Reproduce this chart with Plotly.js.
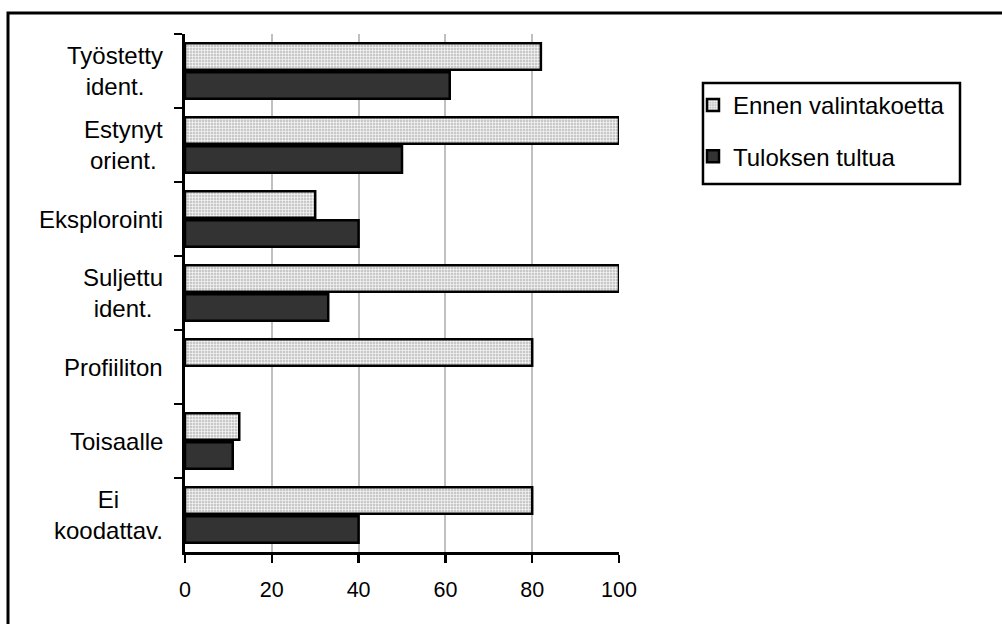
<!DOCTYPE html>
<html>
<head>
<meta charset="utf-8">
<script src="https://cdn.plot.ly/plotly-3.0.1.min.js"></script>
<style>
html,body{margin:0;padding:0;background:#fff;}
#chart{width:1002px;height:624px;}
</style>
</head>
<body>
<div id="chart"></div>
<script>
const categories = ["Työstetty<br>ident.", "Estynyt<br>orient.", "Eksplorointi", "Suljettu<br>ident.", "Profiiliton", "Toisaalle", "Ei<br>koodattav."];
const seriesNames = ["Ennen valintakoetta", "Tuloksen tultua"];
const ennen = [82, 100, 30, 100, 80, 12.5, 80];
const tuloksen = [61, 50, 40, 33, 0, 11, 40];
const xTicks = [0, 20, 40, 60, 80, 100];

const FONT = "Arial, 'Liberation Sans', sans-serif";
const FS = 24;
const TFS = 21.5;

// zero-length bars are not drawn in the reference
const plotVals = arr => arr.map(v => (v === 0 ? null : v));

const traces = [
  {
    type: "bar", orientation: "h", name: seriesNames[0],
    y: categories, x: plotVals(ennen), legendgroup: "a",
    marker: {
      color: "#c8c8c8",
      line: {color: "#000", width: 2.5},
      pattern: {shape: "+", fgcolor: "#ffffff", bgcolor: "#c8c8c8", size: 3, solidity: 0.33}
    },
    hoverinfo: "x+name"
  },
  {
    type: "bar", orientation: "h", name: seriesNames[1],
    y: categories, x: plotVals(tuloksen), legendgroup: "b",
    marker: {color: "#333333", line: {color: "#000", width: 2.5}},
    hoverinfo: "x+name"
  }
];

const annotations = categories.map(c => ({
  xref: "paper", yref: "y", x: -0.047, y: c,
  xanchor: "right", yanchor: "middle", align: "center",
  text: c, showarrow: false,
  font: {family: FONT, size: FS, color: "#000"}
}));

const layout = {
  width: 1002, height: 624,
  margin: {l: 185, r: 383, t: 34, b: 72, pad: 0},
  paper_bgcolor: "#fff", plot_bgcolor: "#fff",
  barmode: "group", bargap: 0.22, bargroupgap: 0.08,
  font: {family: FONT, size: FS, color: "#000"},
  xaxis: {
    range: [0, 100], tickvals: xTicks, ticktext: xTicks.map(String),
    showgrid: true, gridcolor: "#c0c0c0", gridwidth: 2,
    showline: true, linecolor: "#000", linewidth: 3,
    ticks: "outside", ticklen: 8, tickwidth: 2.5, tickcolor: "#000",
    ticklabelstandoff: 8,
    zeroline: false, fixedrange: true,
    tickfont: {family: FONT, size: TFS, color: "#000"}
  },
  yaxis: {
    type: "category", autorange: "reversed",
    categoryorder: "array", categoryarray: categories,
    showgrid: false, zeroline: false,
    showline: true, linecolor: "#000", linewidth: 3,
    ticks: "outside", tickson: "boundaries", ticklen: 8, tickwidth: 2.5, tickcolor: "#000",
    showticklabels: false, fixedrange: true
  },
  showlegend: true,
  legend: {
    x: 1.1705, y: 0.9054, xanchor: "left", yanchor: "top",
    borderwidth: 0, bgcolor: "rgba(0,0,0,0)",
    traceorder: "grouped", tracegroupgap: 17,
    font: {family: FONT, size: FS, color: "#000"},
    itemwidth: 30
  },
  annotations: annotations,
  shapes: [
    {
      type: "rect", xref: "paper", yref: "paper",
      x0: -0.4078, x1: 2.0, y0: -0.3, y1: 1.0405,
      line: {color: "#000", width: 3}, fillcolor: "rgba(0,0,0,0)", layer: "below"
    },
    {
      type: "rect", xref: "paper", yref: "paper",
      x0: 1.1935, x1: 1.7857, y0: 0.7104, y1: 0.9054,
      line: {color: "#000", width: 2.5}, fillcolor: "rgba(0,0,0,0)", layer: "below"
    }
  ]
};

Plotly.newPlot("chart", traces, layout, {displayModeBar: false, staticPlot: true});
</script>
</body>
</html>
